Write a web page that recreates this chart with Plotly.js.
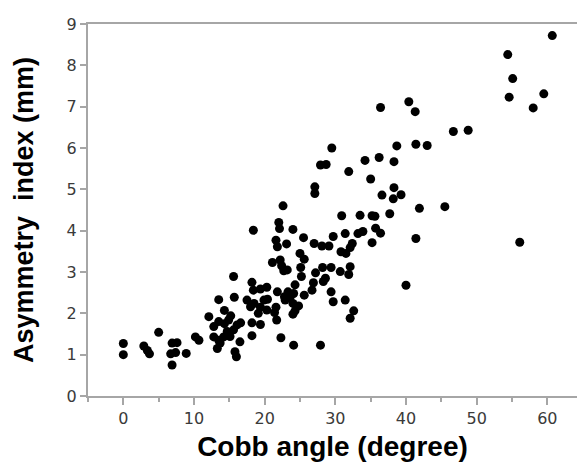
<!DOCTYPE html>
<html>
<head>
<meta charset="utf-8">
<script src="https://cdn.plot.ly/plotly-3.0.1.min.js"></script>
<style>html,body{margin:0;padding:0;background:#fff;}#chart{width:577px;height:462px;}</style>
</head>
<body>
<div id="chart"></div>
<script>
// Cobb angle (degree)
const cobbAngle = [
  0, 0, 2.9, 3.4, 3.7, 5.0, 6.9, 7.6, 6.7, 7.4,
  6.9, 8.9, 10.2, 10.7, 12.1, 13.5, 14.3, 13.5, 14.3, 12.8,
  15.2, 14.9, 14.7, 15.6, 16.1, 16.6, 12.8, 13.5, 14.2, 13.7,
  13.3, 15.1, 16.5, 15.8, 16.0, 15.7, 15.6, 18.2, 19.4, 18.2,
  17.5, 18.5, 18.0, 19.9, 20.4, 19.4, 19.1, 20.3, 21.6, 21.4,
  21.7, 18.2, 18.4, 19.4, 20.3, 21.8, 23.3, 24.1, 23.6, 22.8,
  25.6, 18.4, 22.6, 22.0, 22.1, 24.0, 25.5, 21.6, 21.8, 23.1,
  25.0, 25.6, 21.1, 22.2, 22.4, 23.2, 22.7, 25.1, 25.2, 24.3,
  24.8, 24.3, 24.0, 24.0, 22.3, 24.1, 27.9, 26.9, 26.7, 27.0,
  28.1, 29.1, 29.7, 31.4, 33.2, 33.9, 35.7, 36.4, 35.2, 32.4,
  32.1, 30.8, 31.5, 28.2, 27.2, 29.4, 32.1, 30.7, 31.9, 28.6,
  28.3, 29.4, 29.7, 31.4, 32.6, 32.1, 30.9, 33.5, 35.2, 35.6,
  37.7, 27.1, 27.1, 27.9, 28.7, 29.5, 31.9, 34.2, 36.2, 38.3,
  35.0, 38.3, 36.6, 38.2, 39.3, 41.9, 45.5, 41.4, 40.0, 36.4,
  40.4, 41.3, 46.7, 48.8, 38.7, 41.4, 43.0, 60.7, 54.4, 55.1,
  54.6, 59.5, 58.0, 56.1, 22.9
];
// Asymmetry index (mm)
const asymmetryIndex = [
  1.27, 1.00, 1.21, 1.10, 1.02, 1.54, 1.28, 1.29, 1.02, 1.05,
  0.75, 1.03, 1.43, 1.35, 1.92, 2.33, 2.07, 1.80, 1.75, 1.68,
  1.94, 1.84, 1.56, 1.60, 1.72, 1.77, 1.43, 1.35, 1.43, 1.28,
  1.15, 1.44, 1.31, 1.07, 0.95, 2.39, 2.89, 1.77, 1.73, 1.46,
  2.32, 2.24, 2.16, 2.32, 2.34, 2.15, 2.00, 2.08, 2.15, 2.02,
  1.84, 2.75, 2.56, 2.59, 2.63, 2.52, 2.52, 2.48, 2.39, 2.40,
  2.44, 4.01, 4.60, 4.20, 4.05, 4.03, 3.83, 3.77, 3.61, 3.68,
  3.45, 3.31, 3.23, 3.29, 3.15, 3.05, 3.03, 3.11, 2.89, 2.69,
  2.18, 2.06, 1.98, 2.24, 1.41, 1.23, 1.23, 2.74, 2.56, 3.69,
  3.63, 3.63, 3.86, 3.93, 3.93, 3.98, 4.06, 3.94, 3.71, 3.69,
  3.59, 3.49, 3.45, 3.11, 2.98, 3.11, 3.13, 3.01, 2.94, 2.85,
  2.77, 2.52, 2.28, 2.32, 2.06, 1.88, 4.36, 4.37, 4.36, 4.35,
  4.41, 5.06, 4.90, 5.59, 5.60, 6.00, 5.43, 5.70, 5.77, 5.67,
  5.25, 5.04, 4.86, 4.77, 4.87, 4.54, 4.58, 3.81, 2.68, 6.98,
  7.12, 6.88, 6.40, 6.43, 6.05, 6.09, 6.06, 8.72, 8.26, 7.68,
  7.23, 7.31, 6.97, 3.72, 2.32
];
const xTickVals = [0, 10, 20, 30, 40, 50, 60];
const yTickVals = [0, 1, 2, 3, 4, 5, 6, 7, 8, 9];

const axisColor = '#a6a6a6';
const tickFont = {family: 'DejaVu Sans, Verdana, sans-serif', size: 16, color: '#3a3a3a'};
const xTitleFont = {family: 'Liberation Sans, Arial, sans-serif', size: 28, color: '#000', weight: 'bold'};
const yTitleFont = {family: 'Liberation Sans, Arial, sans-serif', size: 27, color: '#000', weight: 'bold'};

const trace = {
  x: cobbAngle,
  y: asymmetryIndex,
  type: 'scatter',
  mode: 'markers',
  marker: {color: '#000', size: 9, line: {width: 0}},
  hoverinfo: 'x+y'
};

const layout = {
  width: 577,
  height: 462,
  margin: {l: 88, r: 0, t: 24, b: 66, pad: 0},
  paper_bgcolor: '#fff',
  plot_bgcolor: '#fff',
  showlegend: false,
  xaxis: {
    range: [-5, 64.2],
    tickvals: xTickVals,
    ticks: 'outside',
    ticklen: 7,
    tickwidth: 2,
    tickcolor: axisColor,
    showline: true,
    linecolor: axisColor,
    linewidth: 2,
    mirror: true,
    showgrid: false,
    zeroline: false,
    tickfont: tickFont,
    minor: {dtick: 5, tick0: -5, ticks: 'outside', ticklen: 4, tickwidth: 2, tickcolor: axisColor, showgrid: false},
    title: {text: 'Cobb angle (degree)', font: xTitleFont, standoff: 14},
    automargin: false
  },
  yaxis: {
    range: [0, 9],
    tickvals: yTickVals,
    ticks: 'outside',
    ticklen: 6,
    tickwidth: 2,
    tickcolor: axisColor,
    showline: true,
    linecolor: axisColor,
    linewidth: 2,
    showgrid: false,
    zeroline: false,
    tickfont: tickFont,
    title: {text: 'Asymmetry  index (mm)', font: yTitleFont, standoff: 25},
    automargin: true
  }
};

Plotly.newPlot('chart', [trace], layout, {displayModeBar: false, staticPlot: true});
</script>
</body>
</html>
